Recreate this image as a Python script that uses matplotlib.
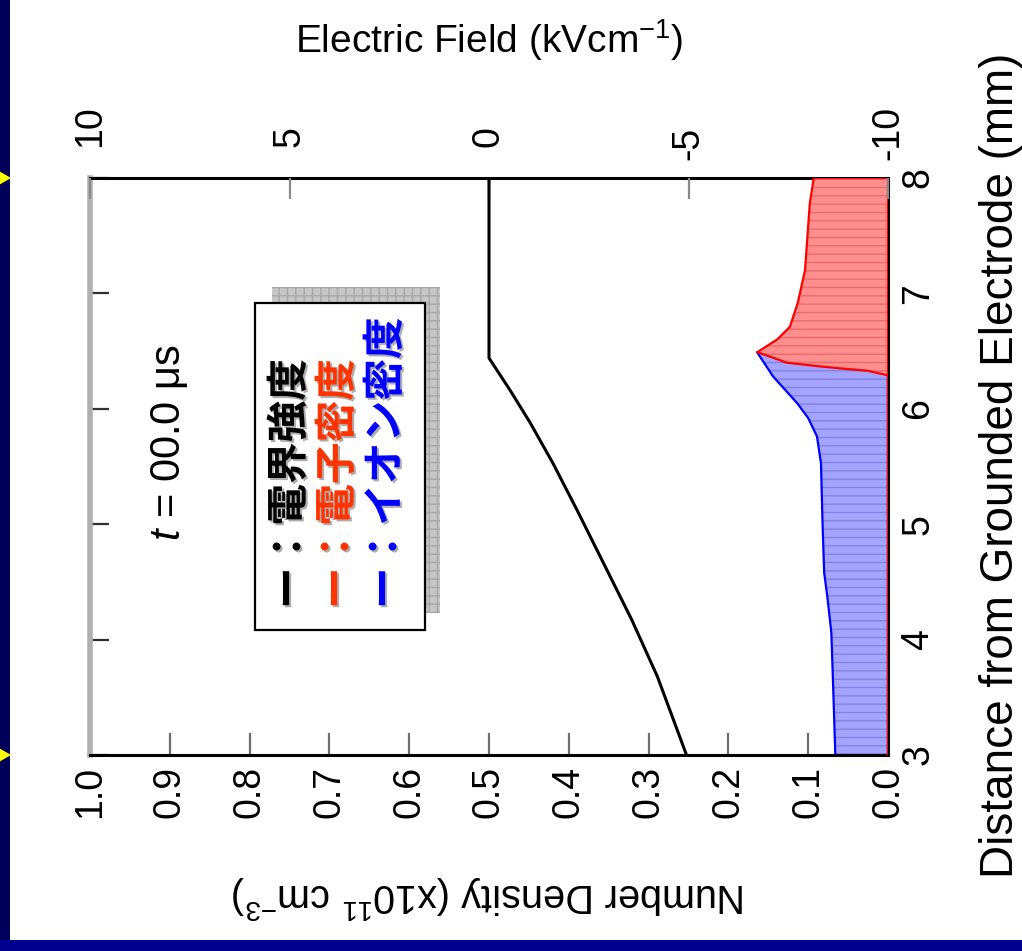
# Electric field and charge density profile across the gap, drawn sideways

import matplotlib.pyplot as plt
import matplotlib.patheffects as pe
import matplotlib.transforms as mtransforms
from matplotlib.patches import Rectangle, Polygon
from matplotlib.ticker import FormatStrFormatter

plt.rcParams["font.family"] = ["Liberation Sans", "Noto Sans CJK JP", "DejaVu Sans"]
plt.rcParams["axes.unicode_minus"] = False
plt.rcParams["mathtext.fontset"] = "custom"
plt.rcParams["mathtext.rm"] = "Liberation Sans"
plt.rcParams["mathtext.it"] = "Liberation Sans:italic"
plt.rcParams["hatch.linewidth"] = 1.0

# electric field (kV/cm) vs distance from grounded electrode (mm)
field_pos = [3.0, 3.68, 4.17, 4.60, 5.12, 5.53, 5.88, 6.16, 6.44, 6.60, 8.0]
field_val = [-4.95, -4.22, -3.58, -2.96, -2.21, -1.60, -1.03, -0.53, 0.0, 0.0, 0.0]

# electron density (x10^11 cm^-3)
elec_pos = [3.0, 6.29, 6.33, 6.35, 6.37, 6.40, 6.46, 6.49, 6.60, 6.71, 6.92, 7.20, 7.78, 8.0]
elec_val = [0.0, 0.0, 0.026, 0.060, 0.089, 0.127, 0.151, 0.164, 0.139, 0.123, 0.113, 0.104, 0.098, 0.093]

# ion density (x10^11 cm^-3)
ion_pos = [3.0, 3.65, 4.06, 4.37, 4.58, 5.0, 5.53, 5.76, 5.92, 6.05, 6.28, 6.49]
ion_val = [0.066, 0.069, 0.071, 0.076, 0.080, 0.082, 0.084, 0.089, 0.100, 0.114, 0.144, 0.164]

density_ticks = [1.0, 0.9, 0.8, 0.7, 0.6, 0.5, 0.4, 0.3, 0.2, 0.1, 0.0]
field_ticks = [10, 5, 0, -5, -10]
dist_ticks = [3, 4, 5, 6, 7, 8]

legend_labels = ["ー：電界強度", "ー：電子密度", "ー：イオン密度"]
legend_colors = ["black", "#ff3300", "#0000ff"]

W, H = 1022, 951
fig = plt.figure(figsize=(W / 100, H / 100), dpi=100)
fig.patch.set_facecolor("white")

ax = fig.add_axes([90 / W, 196 / H, 798 / W, 577 / H])
ax.set_xlim(1.0, 0.0)
ax.set_ylim(3, 8)

# ion density first, electron density drawn over it
ax.fill_betweenx(ion_pos, 0, ion_val, facecolor="#a4a4ff", edgecolor="#8282e6",
                 hatch="--", linewidth=0, zorder=2)
ax.fill_betweenx(ion_pos, 0, ion_val, facecolor="none", edgecolor="#0000ff",
                 linewidth=1.6, zorder=2)
ax.fill_betweenx(elec_pos, 0, elec_val, facecolor="#ff8e8e", edgecolor="#e86c6c",
                 hatch="--", linewidth=0, zorder=3)
ax.fill_betweenx(elec_pos, 0, elec_val, facecolor="none", edgecolor="#ff0000",
                 linewidth=1.6, zorder=3)

ax.set_xticks(density_ticks)
ax.xaxis.set_major_formatter(FormatStrFormatter("%.1f"))
ax.set_yticks(dist_ticks)
ax.tick_params(axis="x", direction="in", length=16, width=1.6, color="#6e6e6e",
               labelsize=27, labelrotation=90, pad=8, top=False, bottom=True)
ax.tick_params(axis="y", direction="in", length=14, width=1.6, color="#303030",
               left=True, right=False, labelleft=False, labelright=True,
               labelsize=27, labelrotation=90, pad=9)
for lab in ax.get_yticklabels():
    lab.set_verticalalignment("center")

for side in ["top", "bottom", "right"]:
    ax.spines[side].set_color("black")
    ax.spines[side].set_linewidth(2.2)
ax.spines["left"].set_color("#b0b0b0")
ax.spines["left"].set_linewidth(4)

# electric field on its own top axis
ax2 = ax.twiny()
ax2.set_xlim(10, -10)
ax2.plot(field_val, field_pos, color="black", linewidth=2.2, zorder=4)
ax2.set_xticks(field_ticks)
ax2.set_xticklabels([str(v) for v in field_ticks])
ax2.tick_params(axis="x", direction="in", length=15, width=1.6, color="#8a8a8a",
                labelsize=27, labelrotation=90, pad=22, top=True, bottom=False,
                labeltop=True, labelbottom=False)
for v, lab in zip(field_ticks, ax2.get_xticklabels()):
    lab.set_verticalalignment("bottom")
    if v < 0:
        shift = mtransforms.ScaledTranslation(0, -9 / 72, fig.dpi_scale_trans)
        lab.set_transform(lab.get_transform() + shift)
for s in ax2.spines.values():
    s.set_visible(False)

# axis titles
fig.text(489 / W, 1 - 40 / H, r"Electric Field (kVcm$^{-1}$)", ha="center",
         va="center", fontsize=28)
fig.text(1001 / W, 1 - 465 / H, "Distance from Grounded Electrode (mm)",
         rotation=90, ha="center", va="center", fontsize=33)
fig.text(489 / W, 1 - 898 / H, r"Number Density (x10$^{11}$ cm$^{-3}$)",
         rotation=180, ha="center", va="center", fontsize=28.5)

fig.text(170 / W, 1 - 443 / H, r"$t$ = 00.0 μs", rotation=90, ha="center",
         va="center", fontsize=30)

# legend box with its checkered shadow
fig.add_artist(Rectangle((272 / W, 1 - 613 / H), 168 / W, 326 / H,
                         transform=fig.transFigure, facecolor="#c6c6c6",
                         edgecolor="#a6a6a6", hatch="++", linewidth=0))
fig.add_artist(Rectangle((255 / W, 1 - 630 / H), 170 / W, 327 / H,
                         transform=fig.transFigure, facecolor="white",
                         edgecolor="black", linewidth=1.6))
for i, (txt, col) in enumerate(zip(legend_labels, legend_colors)):
    fig.text((290 + 48 * i) / W, 1 - 609 / H, txt, rotation=90, ha="center",
             va="bottom", fontsize=30, fontweight="bold", color=col,
             family=["Noto Sans CJK JP", "DejaVu Sans"],
             path_effects=[pe.SimplePatchShadow(offset=(1.5, -1.5),
                                                shadow_rgbFace="#8c8c8c", alpha=0.7),
                           pe.Normal()])

# slide frame: navy strips and yellow markers at the gap ends
fig.add_artist(Rectangle((0, 0), 10 / W, 1, transform=fig.transFigure,
                         facecolor="#00005a", linewidth=0))
fig.add_artist(Rectangle((0, 0), 1, 11 / H, transform=fig.transFigure,
                         facecolor="#000090", linewidth=0))
mark_tr = mtransforms.blended_transform_factory(fig.transFigure, ax.transData)
for d in [3, 8]:
    fig.add_artist(Polygon([(0, d - 0.055), (11 / W, d), (0, d + 0.055)],
                           closed=True, transform=mark_tr, facecolor="#ffff00",
                           linewidth=0, clip_on=False))

fig.savefig("out.png", dpi=100)
